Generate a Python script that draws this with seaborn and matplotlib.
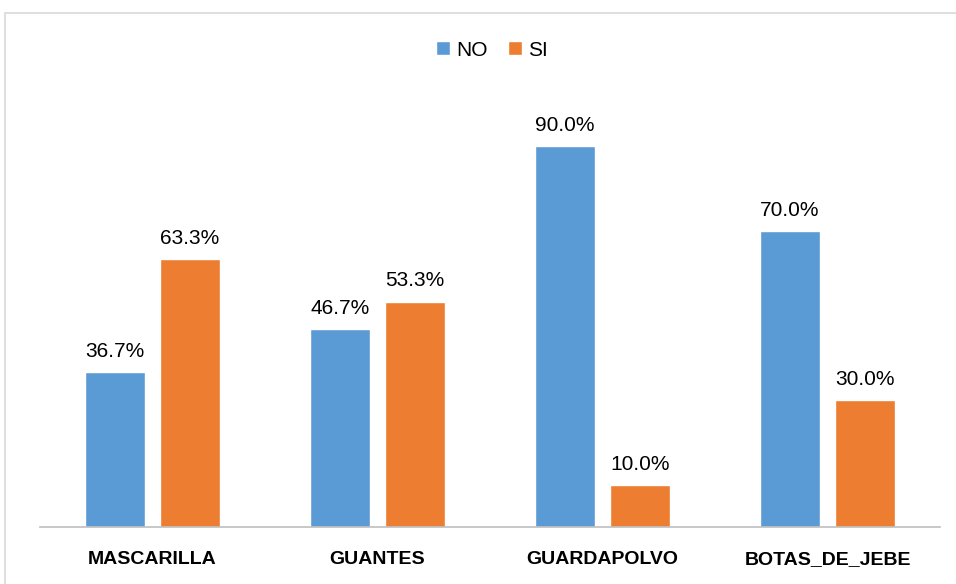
import pandas as pd
import seaborn as sns
import matplotlib.pyplot as plt
from matplotlib.patches import Rectangle

## data
categorias = ["MASCARILLA", "GUANTES", "GUARDAPOLVO", "BOTAS_DE_JEBE"]
no_vals = [36.7, 46.7, 90.0, 70.0]
si_vals = [63.3, 53.3, 10.0, 30.0]

df = pd.DataFrame({
    "categoria": categorias * 2,
    "respuesta": ["NO"] * len(categorias) + ["SI"] * len(categorias),
    "valor": no_vals + si_vals,
})

sns.set_theme(style="white")
plt.rcParams["font.family"] = ["Liberation Sans", "DejaVu Sans"]
plt.rcParams["text.color"] = "black"
plt.rcParams["xtick.color"] = "black"

fig = plt.figure(figsize=(9.56, 5.84), dpi=100)
ax = fig.add_axes([40 / 956, 57 / 584, 900 / 956, 423 / 584])

sns.barplot(data=df, x="categoria", y="valor", hue="respuesta",
            palette={"NO": "#5B9BD5", "SI": "#ED7D31"},
            width=0.667, gap=0.2, ax=ax, saturation=1)

for cont in ax.containers:
    ax.bar_label(cont, fmt="%.1f%%", padding=8, fontsize=15, color="black")

ax.set_ylim(0, 100)
ax.set_xlim(-0.5, 3.5)
ax.set_xlabel("")
ax.set_ylabel("")
ax.set_yticks([])
ax.tick_params(axis="x", length=0, pad=17, colors="black")
for lbl in ax.get_xticklabels():
    lbl.set_fontweight("bold")
    lbl.set_fontsize(14)

for s in ["top", "right", "left"]:
    ax.spines[s].set_visible(False)
ax.spines["bottom"].set_color("#BFBFBF")
ax.spines["bottom"].set_linewidth(1.2)

ax.legend(loc="center", bbox_to_anchor=(492 / 956, 1 - 50 / 584),
          bbox_transform=fig.transFigure, ncol=2, frameon=False,
          fontsize=15, handlelength=0.65, handleheight=0.65,
          handletextpad=0.3, columnspacing=1.0, title=None)

# chart border (Excel style)
fig.patches.append(Rectangle((5 / 956, -0.1), 1.1, 1 - 13 / 584 + 0.1,
                             transform=fig.transFigure, fill=False,
                             edgecolor="#D9D9D9", linewidth=1.2))

fig.savefig("out.png", dpi=100)
